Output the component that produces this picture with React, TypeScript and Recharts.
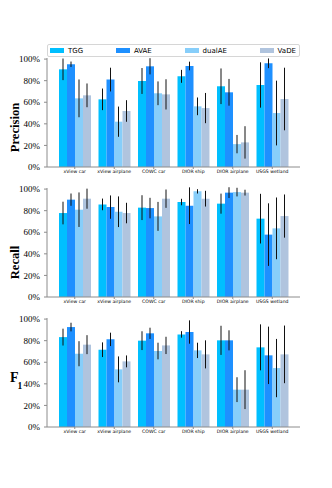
import React from 'react';
import { BarChart, Bar, XAxis, YAxis, ErrorBar, Legend } from 'recharts';

const categories = ['xView car', 'xView airplane', 'COWC car', 'DIOR ship', 'DIOR airplane', 'USGS wetland'];
const methods = ['TGG', 'AVAE', 'dualAE', 'VaDE'];
const colors = ['#00BFFF', '#1E90FF', '#87CEFA', '#B0C4DE'];
const yTicks = [0, 0.2, 0.4, 0.6, 0.8, 1.0];

// Precision
const precTGG = [0.905, 0.627, 0.797, 0.84, 0.748, 0.76];
const precTGGErr = [0.1, 0.1, 0.12, 0.06, 0.165, 0.21];
const precAVAE = [0.952, 0.81, 0.933, 0.936, 0.692, 0.961];
const precAVAEErr = [0.025, 0.11, 0.075, 0.04, 0.124, 0.045];
const precDualAE = [0.636, 0.42, 0.683, 0.562, 0.212, 0.5];
const precDualAEErr = [0.175, 0.14, 0.11, 0.082, 0.085, 0.3];
const precVaDE = [0.664, 0.519, 0.673, 0.546, 0.228, 0.63];
const precVaDEErr = [0.11, 0.1, 0.14, 0.14, 0.15, 0.29];

// Recall
const recTGG = [0.778, 0.858, 0.828, 0.88, 0.865, 0.726];
const recTGGErr = [0.105, 0.054, 0.115, 0.03, 0.093, 0.23];
const recAVAE = [0.902, 0.833, 0.824, 0.846, 0.967, 0.578];
const recAVAEErr = [0.057, 0.108, 0.095, 0.17, 0.05, 0.29];
const recDualAE = [0.809, 0.79, 0.747, 0.979, 0.972, 0.636];
const recDualAEErr = [0.16, 0.142, 0.134, 0.02, 0.04, 0.286];
const recVaDE = [0.911, 0.778, 0.911, 0.911, 0.967, 0.75];
const recVaDEErr = [0.093, 0.095, 0.085, 0.073, 0.027, 0.2];

// F1
const f1TGG = [0.833, 0.716, 0.8, 0.858, 0.803, 0.738];
const f1TGGErr = [0.078, 0.068, 0.087, 0.03, 0.135, 0.213];
const f1AVAE = [0.926, 0.812, 0.868, 0.88, 0.803, 0.664];
const f1AVAEErr = [0.04, 0.062, 0.052, 0.108, 0.093, 0.266];
const f1DualAE = [0.679, 0.534, 0.704, 0.71, 0.346, 0.546];
const f1DualAEErr = [0.116, 0.12, 0.077, 0.071, 0.115, 0.27];
const f1VaDE = [0.763, 0.608, 0.756, 0.673, 0.346, 0.673];
const f1VaDEErr = [0.088, 0.055, 0.08, 0.13, 0.18, 0.267];

const buildRows = (vals: number[][], errs: number[][]) =>
  categories.map((name, i) => {
    const row: any = { name };
    methods.forEach((m, j) => {
      row[m] = vals[j][i];
      row[m + '_err'] = errs[j][i];
    });
    return row;
  });

const precisionData = buildRows(
  [precTGG, precAVAE, precDualAE, precVaDE],
  [precTGGErr, precAVAEErr, precDualAEErr, precVaDEErr]
);
const recallData = buildRows(
  [recTGG, recAVAE, recDualAE, recVaDE],
  [recTGGErr, recAVAEErr, recDualAEErr, recVaDEErr]
);
const f1Data = buildRows(
  [f1TGG, f1AVAE, f1DualAE, f1VaDE],
  [f1TGGErr, f1AVAEErr, f1DualAEErr, f1VaDEErr]
);

const FRAME = '#8c8c8c';

// keep the legend in series order (recharts sorts by name otherwise)
const LegendBox = ({ payload }: any) => {
  const items = [...(payload || [])].sort(
    (a: any, b: any) => methods.indexOf(a.value) - methods.indexOf(b.value)
  );
  return (
    <div
      style={{
        boxSizing: 'border-box',
        height: 13,
        border: '1px solid #d6d6d6',
        borderRadius: 2,
        display: 'flex',
        justifyContent: 'space-between',
        alignItems: 'center',
        padding: '0 3px 0 2px',
        fontFamily: 'DejaVu Sans',
        fontSize: 7,
        color: '#000',
        background: '#fff',
      }}
    >
      {items.map((p: any) => (
        <div key={p.value} style={{ display: 'flex', alignItems: 'center' }}>
          <span style={{ display: 'inline-block', width: 14, height: 5, background: p.color, marginRight: 4 }} />
          <span>{p.value}</span>
        </div>
      ))}
    </div>
  );
};

const AxisTitle = ({ viewBox, text, shift, isF1 }: any) => {
  const cy = viewBox.y + viewBox.height / 2 + shift;
  if (isF1) {
    return (
      <text x={10} y={cy} fontFamily="Liberation Serif" fontWeight="bold" fontSize={14} fill="#000">
        F
        <tspan fontSize={9.5} dx={-1} dy={7}>1</tspan>
      </text>
    );
  }
  return (
    <text
      x={15}
      y={cy}
      transform={`rotate(-90, 15, ${cy})`}
      textAnchor="middle"
      dominantBaseline="central"
      fontFamily="Liberation Serif"
      fontWeight="bold"
      fontSize={12.6}
      fill="#000"
    >
      {text}
    </text>
  );
};

interface PanelProps {
  data: any[];
  top: number;
  title: string;
  shift: number;
  legend?: boolean;
  isF1?: boolean;
}

function Panel({ data, top, title, shift, legend, isF1 }: PanelProps) {
  const marginTop = legend ? 1 : 4;
  const height = (legend ? 14 : 4) + 109 + 12;
  return (
    <div style={{ position: 'absolute', left: 0, top }}>
      <BarChart
        width={332}
        height={height}
        data={data}
        margin={{ top: marginTop, right: 32, bottom: 0, left: 0 }}
        barGap={0}
        barSize={8}
      >
        <XAxis
          dataKey="name"
          interval={0}
          padding={{ left: 8, right: 8 }}
          height={12}
          tickSize={2}
          tickMargin={1}
          axisLine={{ stroke: FRAME }}
          tickLine={{ stroke: FRAME }}
          tick={{ fontSize: 4.6, fill: '#000', fontFamily: 'DejaVu Sans' }}
        />
        <XAxis xAxisId="t" dataKey="name" orientation="top" height={0} tick={false} tickLine={false} axisLine={{ stroke: FRAME }} />
        <YAxis
          type="number"
          domain={[0, 1.01]}
          ticks={yTicks}
          allowDataOverflow
          width={47}
          tickSize={3}
          tickMargin={4}
          axisLine={{ stroke: FRAME }}
          tickLine={{ stroke: FRAME }}
          tickFormatter={(v: number) => `${Math.round(v * 100)}%`}
          tick={{ fontSize: 9, fill: '#000', fontFamily: 'Liberation Serif' }}
          label={<AxisTitle text={title} shift={shift} isF1={isF1} />}
        />
        <YAxis yAxisId="r" type="number" domain={[0, 1]} orientation="right" width={0} tick={false} tickLine={false} axisLine={{ stroke: FRAME }} />
        {legend && (
          <Legend
            verticalAlign="top"
            content={<LegendBox />}
            wrapperStyle={{ left: 47, top: 0, width: 253, height: 13 }}
          />
        )}
        {methods.map((m, i) => (
          <Bar key={m} dataKey={m} name={m} fill={colors[i]} isAnimationActive={false}>
            <ErrorBar dataKey={m + '_err'} direction="y" width={0} stroke="#111" strokeWidth={1} />
          </Bar>
        ))}
      </BarChart>
    </div>
  );
}

export default function App() {
  return (
    <div style={{ position: 'absolute', left: 0, top: 0, width: 332, height: 488, background: '#fff' }}>
      <Panel data={precisionData} top={44} title="Precision" shift={15} legend />
      <Panel data={recallData} top={184} title="Recall" shift={20} />
      <Panel data={f1Data} top={314} title="F1" shift={9} isF1 />
    </div>
  );
}
